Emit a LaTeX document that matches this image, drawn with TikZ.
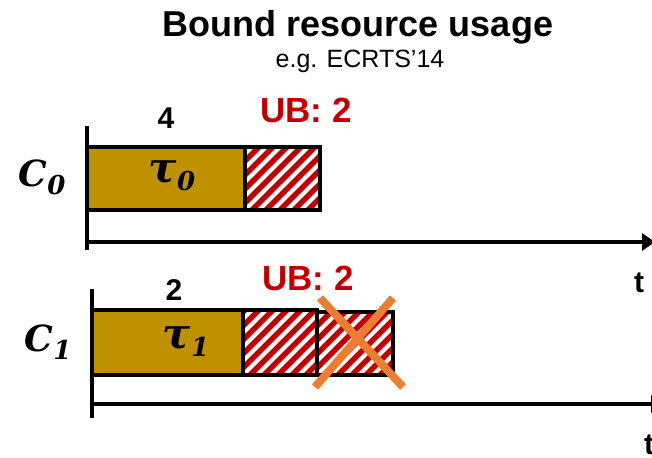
\documentclass[tikz,border=0pt]{standalone}
\usepackage{fontspec}
\setmainfont{Liberation Sans}
\newfontfamily\mathserif{DejaVu Serif}
\usetikzlibrary{arrows.meta}

\definecolor{taskgold}{HTML}{BF9000}
\definecolor{ubred}{HTML}{C00000}
\definecolor{crossorange}{HTML}{ED7D31}

\newcommand{\fsz}[1]{\fontsize{#1}{#1}\selectfont}
% bold-italic serif symbol with a large italic subscript
\newcommand{\symsub}[4]{{\mathserif\bfseries\itshape\fsz{#1}#2\raisebox{-8pt}{\fsz{#3}#4}}}

\tikzset{
  axisline/.style={line width=4pt},
  timeaxis/.style={line width=4pt, -{Triangle[length=13pt,width=17pt]}},
  taskbox/.style={draw=black, line width=4pt, fill=taskgold, inner sep=0pt},
  ubbox/.style={draw=black, line width=4pt, fill=ubred, inner sep=0pt,
    path picture={
      \foreach \i in {-98,-84,...,98}
        \draw[white, line width=4.2pt]
          ([xshift=\i pt]path picture bounding box.south west) -- ++(100pt,100pt);
    }},
  boldlbl/.style={font=\bfseries\fsz{30}, inner sep=0pt},
  ublbl/.style={font=\bfseries\fsz{35}, text=ubred, inner sep=0pt},
  crossline/.style={crossorange, line width=8pt},
}

\begin{document}
\begin{tikzpicture}[x=1pt, y=-1pt]
  \useasboundingbox (0,0) rectangle (652,457);

  % title
  \node[font=\bfseries\fsz{36}, inner sep=0pt, anchor=base] (title) at (358,37) {Bound resource usage};
  \node[font=\fsz{25}, inner sep=0pt, anchor=base] (sub) at (360,68) {e.g. ECRTS’14};

  % ---------- core C0 ----------
  \coordinate (v0top) at (87,126);
  \coordinate (v0bot) at (87,250);
  \coordinate (a0start) at (87,242);
  \coordinate (a0end) at (655,242);

  \node[taskbox, minimum width=158pt, minimum height=63pt] (g0) at (166,178.5) {};
  \node[ubbox, minimum width=75pt, minimum height=63pt] (h0) at (282.5,178.5) {};

  \draw[axisline] (v0top) -- (v0bot);
  \draw[timeaxis] (a0start) -- (a0end);

  \node (tau0) at (172,176) {\symsub{42}{τ}{26}{0}};
  \node (c0) at (42,177) {\symsub{36}{C}{26}{0}};
  \node[boldlbl] (n4) at (166,118) {4};
  \node[ublbl] (ub0) at (306,110) {UB: 2};
  \node[boldlbl] (t0) at (639,283) {t};

  % ---------- core C1 ----------
  \coordinate (v1top) at (92,289);
  \coordinate (v1bot) at (92,418);
  \coordinate (a1start) at (92,404);
  \coordinate (a1end) at (664,404);

  \node[taskbox, minimum width=151pt, minimum height=65pt] (g1) at (167.5,342.5) {};
  \node[ubbox, minimum width=74pt, minimum height=65pt] (h1a) at (280,342.5) {};
  \node[ubbox, minimum width=76pt, minimum height=63pt] (h1b) at (355,343.5) {};

  \draw[axisline] (v1top) -- (v1bot);
  \draw[timeaxis, line width=3.5pt] (a1start) -- (a1end);

  \node (tau1) at (186,342) {\symsub{42}{τ}{26}{1}};
  \node (c1) at (48,342) {\symsub{36}{C}{26}{1}};
  \node[boldlbl] (n2) at (174,290) {2};
  \node[ublbl] (ub1) at (308,278) {UB: 2};
  \node[boldlbl] (t1) at (649,445) {t};

  % discarded budget
  \coordinate (x1a) at (320,298);
  \coordinate (x1b) at (403,387);
  \coordinate (x2a) at (393,298);
  \coordinate (x2b) at (315,387);
  \draw[crossline] (x1a) -- (x1b);
  \draw[crossline] (x2a) -- (x2b);
\end{tikzpicture}
\end{document}
